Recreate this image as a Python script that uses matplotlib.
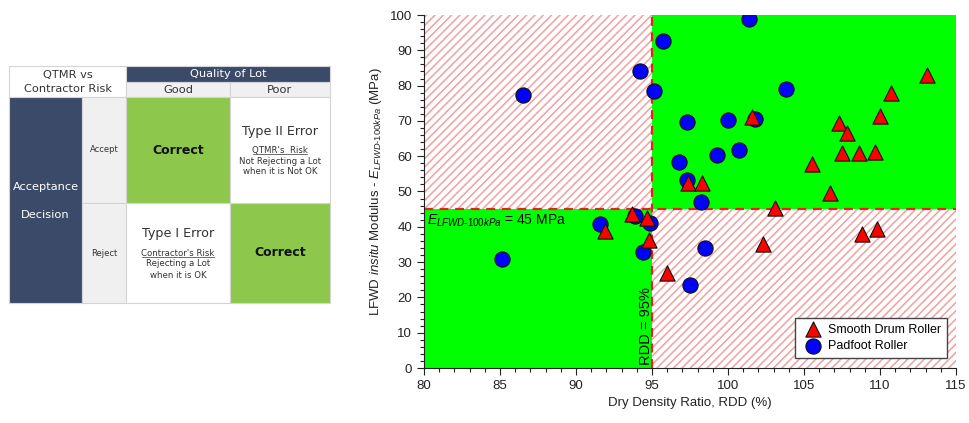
import matplotlib
matplotlib.use("Agg")
import matplotlib.pyplot as plt
from matplotlib.patches import Rectangle
from matplotlib.ticker import MultipleLocator

plt.rcParams['font.family'] = ['Liberation Sans', 'DejaVu Sans']
plt.rcParams['mathtext.fontset'] = 'custom'
plt.rcParams['mathtext.rm'] = 'Liberation Sans'
plt.rcParams['mathtext.it'] = 'Liberation Sans:italic'
plt.rcParams['hatch.linewidth'] = 1.1

# ---- data ----
smooth_x = [113.1, 110.7, 110.0, 107.3, 107.8, 107.5, 108.6, 109.7, 105.5, 106.7,
            103.1, 101.6, 97.4, 98.3, 102.3, 108.8, 109.8, 96.0, 91.9, 93.7, 94.7, 94.8]
smooth_y = [83.0, 77.8, 71.4, 69.3, 66.7, 61.0, 60.8, 61.3, 57.8, 49.5,
            45.2, 71.0, 52.5, 52.5, 35.0, 38.0, 39.3, 27.0, 38.9, 43.6, 42.4, 36.3]
pad_x = [101.4, 95.7, 86.5, 94.2, 95.1, 103.8, 97.3, 100.0, 101.8, 100.7, 99.3,
         96.8, 97.3, 98.2, 91.6, 93.9, 94.9, 94.4, 85.1, 98.5, 97.5]
pad_y = [99.0, 92.7, 77.3, 84.0, 78.5, 79.0, 69.8, 70.2, 70.5, 61.8, 60.2,
         58.3, 53.2, 47.0, 40.7, 43.0, 41.0, 33.0, 30.8, 34.0, 23.5]
rdd_limit = 95
mod_limit = 45
x_range = (80, 115)
y_range = (0, 100)

fig = plt.figure(figsize=(9.69, 4.23), dpi=100)

# ---- left table ----
tab = fig.add_axes([0, 0, 349/969, 1])
tab.set_xlim(0, 349)
tab.set_ylim(423, 0)
tab.axis('off')
navy = '#3b4a68'
green = '#8dc84c'
gray = '#f0f0f0'
line = '#d4d4d4'
txt = '#333333'
cx = [9, 82, 126, 230, 330]
ry = [66, 82, 97, 203, 303]

def cell(x0, x1, y0, y1, fc):
    tab.add_patch(Rectangle((x0, y0), x1 - x0, y1 - y0, facecolor=fc,
                            edgecolor=line, linewidth=0.8))

cell(cx[0], cx[2], ry[0], ry[2], 'white')
cell(cx[2], cx[4], ry[0], ry[1], navy)
cell(cx[2], cx[3], ry[1], ry[2], gray)
cell(cx[3], cx[4], ry[1], ry[2], gray)
cell(cx[0], cx[1], ry[2], ry[4], navy)
cell(cx[1], cx[2], ry[2], ry[3], gray)
cell(cx[1], cx[2], ry[3], ry[4], gray)
cell(cx[2], cx[3], ry[2], ry[3], green)
cell(cx[3], cx[4], ry[2], ry[3], 'white')
cell(cx[2], cx[3], ry[3], ry[4], 'white')
cell(cx[3], cx[4], ry[3], ry[4], green)

tf = 'DejaVu Sans'
underlined = []
def t(x, y, s, size, color=txt, weight='normal', underline=False):
    tx = tab.text(x, y, s, ha='center', va='center', fontsize=size, color=color,
                  fontweight=weight, family=tf)
    if underline:
        underlined.append(tx)
    return tx

t(67.5, 75, 'QTMR vs', 8.2)
t(67.5, 89, 'Contractor Risk', 8.2)
t(228, 74, 'Quality of Lot', 8.2, color='white')
t(178, 90, 'Good', 8.2)
t(280, 90, 'Poor', 8.2)
t(45.5, 187, 'Acceptance', 8.2, color='white')
t(45.5, 215, 'Decision', 8.2, color='white')
t(104, 150, 'Accept', 6)
t(104, 253, 'Reject', 6)
t(178, 150, 'Correct', 9, color='#111111', weight='bold')
t(280, 253, 'Correct', 9, color='#111111', weight='bold')
t(280, 131, 'Type II Error', 9.2)
t(280, 150.5, "QTMR's  Risk", 6.2, underline=True)
t(280, 161, 'Not Rejecting a Lot', 6.2)
t(280, 172, 'when it is Not OK', 6.2)
t(178, 233, 'Type I Error', 9.2)
t(178, 253, "Contractor's Risk", 6.2, underline=True)
t(178, 264, 'Rejecting a Lot', 6.2)
t(178, 275, 'when it is OK', 6.2)

# ---- scatter chart ----
ax = fig.add_axes([424/969, 1 - 368/423, (956 - 424)/969, (368 - 15)/423])
ax.set_xlim(*x_range)
ax.set_ylim(*y_range)

hatch_kw = dict(facecolor='white', edgecolor='#f2a0a0', hatch='////', linewidth=0, zorder=0)
ax.add_patch(Rectangle((x_range[0], mod_limit), rdd_limit - x_range[0], y_range[1] - mod_limit, **hatch_kw))
ax.add_patch(Rectangle((rdd_limit, y_range[0]), x_range[1] - rdd_limit, mod_limit - y_range[0], **hatch_kw))
ax.add_patch(Rectangle((rdd_limit, mod_limit), x_range[1] - rdd_limit, y_range[1] - mod_limit,
                       facecolor='#00ff00', edgecolor='none', zorder=0.5))
ax.add_patch(Rectangle((x_range[0], y_range[0]), rdd_limit - x_range[0], mod_limit - y_range[0],
                       facecolor='#00ff00', edgecolor='none', zorder=0.5))

ax.axhline(mod_limit, color='#e8211c', lw=1.6, ls=(0, (4, 3)), zorder=1)
ax.axvline(rdd_limit, color='#e8211c', lw=1.6, ls=(0, (4, 3)), zorder=1)

ax.scatter(pad_x, pad_y, s=120, marker='o', facecolor='#0000ff', edgecolor='#111111',
           linewidth=0.8, zorder=3, label='Padfoot Roller')
ax.scatter(smooth_x, smooth_y, s=120, marker='^', facecolor='#ff0000', edgecolor='#111111',
           linewidth=0.8, zorder=4, label='Smooth Drum Roller')

ax.text(80.2, 44, r'$E_{LFWD\text{-}100kPa}$ = 45 MPa', fontsize=10, va='top', ha='left', zorder=5)
ax.text(94.6, 0.8, 'RDD = 95%', rotation=90, fontsize=10.5, ha='center', va='bottom', zorder=5)

ax.set_xlabel('Dry Density Ratio, RDD (%)', fontsize=9.5, color='#222222')
ax.set_ylabel(r'LFWD $\mathit{insitu}$ Modulus - $E_{LFWD\text{-}100kPa}$ (MPa)',
              fontsize=9.5, color='#222222')

ax.xaxis.set_major_locator(MultipleLocator(5))
ax.xaxis.set_minor_locator(MultipleLocator(1))
ax.yaxis.set_major_locator(MultipleLocator(10))
ax.yaxis.set_minor_locator(MultipleLocator(2))
ax.tick_params(which='major', length=5, width=0.8, labelsize=9.5, direction='out', colors='#222222')
ax.tick_params(which='minor', length=3, width=0.8, direction='out', colors='#222222')
ax.spines['top'].set_visible(False)
ax.spines['right'].set_visible(False)
for sp in ('left', 'bottom'):
    ax.spines[sp].set_color('#222222')
    ax.spines[sp].set_linewidth(0.8)

h, l = ax.get_legend_handles_labels()
leg = ax.legend(h[::-1], l[::-1], loc='lower right', fontsize=9, frameon=True,
                fancybox=False, edgecolor='#444444', framealpha=1,
                borderpad=0.45, handletextpad=0.25, labelspacing=0.35,
                bbox_to_anchor=(0.995, 0.012))
leg.get_frame().set_linewidth(1.0)
leg.set_zorder(6)

# underline texts in the table, using their rendered extents
fig.canvas.draw()
r = fig.canvas.get_renderer()
inv = tab.transData.inverted()
for tx in underlined:
    bb = tx.get_window_extent(r)
    (x0, y0), (x1, y1) = inv.transform([(bb.x0, bb.y0), (bb.x1, bb.y1)])
    ybase = max(y0, y1) - 0.6
    tab.plot([x0 + 1, x1 - 1], [ybase, ybase], color=txt, lw=0.5)

fig.savefig('out.png', dpi=100)
